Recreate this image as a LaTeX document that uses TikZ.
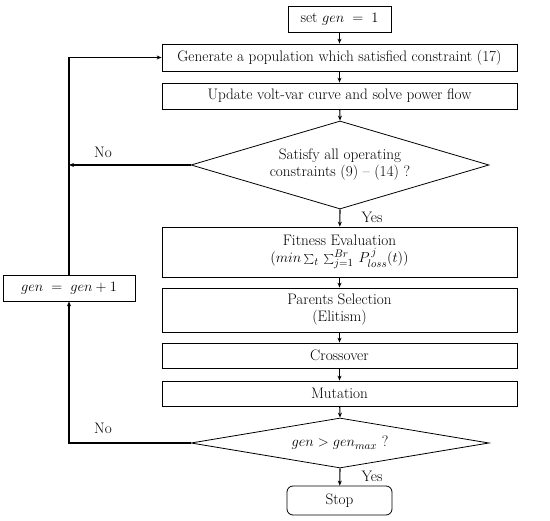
\documentclass[tikz,border=0pt]{standalone}
\usetikzlibrary{shapes.geometric,arrows.meta}
\begin{document}
\begin{tikzpicture}[x=1pt,y=-1pt,
  box/.style={draw,line width=0.8pt,inner sep=0pt,align=center,font=\fontsize{15.2}{17}\selectfont},
  dia/.style={draw,line width=0.8pt,diamond,inner sep=0pt,align=center,font=\fontsize{15.2}{17}\selectfont},
  lbl/.style={inner sep=0pt,font=\fontsize{15.2}{17}\selectfont},
  arr/.style={line width=1.1pt,-{Stealth[length=5pt,width=4pt]}},
  ln/.style={line width=1.1pt}]
\useasboundingbox (0,0) rectangle (550,521);
\node[box,minimum width=103pt,minimum height=26pt] (set) at (339.5,19) {set $gen\;=\;1$};
\node[box,minimum width=355pt,minimum height=27pt] (gen1) at (339.5,57.5) {Generate a population which satisfied constraint (17)};
\node[box,minimum width=355pt,minimum height=26pt] (upd) at (339.5,96) {Update volt-var curve and solve power flow};
\node[dia,aspect=3.39,minimum width=298pt,minimum height=88pt] (dia1) at (340,165) {Satisfy all operating\\constraints (9) -- (14) ?};
\node[box,minimum width=355pt,minimum height=50pt] (fit) at (339.5,252) {Fitness Evaluation\\$(min\sum\nolimits_t\,\sum\nolimits_{j=1}^{Br}\,P_{loss}^{\,j}(t))$};
\node[box,minimum width=355pt,minimum height=44pt] (par) at (339.5,310) {Parents Selection\\(Elitism)};
\node[box,minimum width=355pt,minimum height=25pt] (cro) at (339.5,355.5) {Crossover};
\node[box,minimum width=355pt,minimum height=25pt] (mut) at (339.5,393.5) {Mutation};
\node[dia,aspect=5.96,minimum width=298pt,minimum height=50pt] (dia2) at (340,443) {$gen > gen_{max}$ ?};
\node[box,rounded corners=6pt,minimum width=105pt,minimum height=29pt] (stop) at (339.5,500.5) {Stop};
\node[box,minimum width=132pt,minimum height=26pt] (inc) at (69,288) {$gen\;=\;gen+1$};
\node[lbl] (no1) at (103,152) {No};
\node[lbl] (no2) at (103,428) {No};
\node[lbl] (yes1) at (372,217) {Yes};
\node[lbl] (yes2) at (372,476) {Yes};
\coordinate (topc) at (inc.north |- gen1.west);
\draw[arr] (set) -- (gen1);
\draw[arr] (gen1) -- (upd);
\draw[arr] (upd) -- (dia1.north);
\draw[arr] (dia1.south) -- (fit);
\draw[arr] (fit) -- (par);
\draw[arr] (par) -- (cro);
\draw[arr] (cro) -- (mut);
\draw[arr] (mut) -- (dia2.north);
\draw[arr] (dia2.south) -- (stop);
\draw[arr] (dia1.west) -- (inc.north |- dia1.west);
\draw[arr] (inc.north) -- (topc) -- (gen1.west);
\draw[arr] (dia2.west) -- (inc.south |- dia2.west) -- (inc.south);
\end{tikzpicture}
\end{document}
